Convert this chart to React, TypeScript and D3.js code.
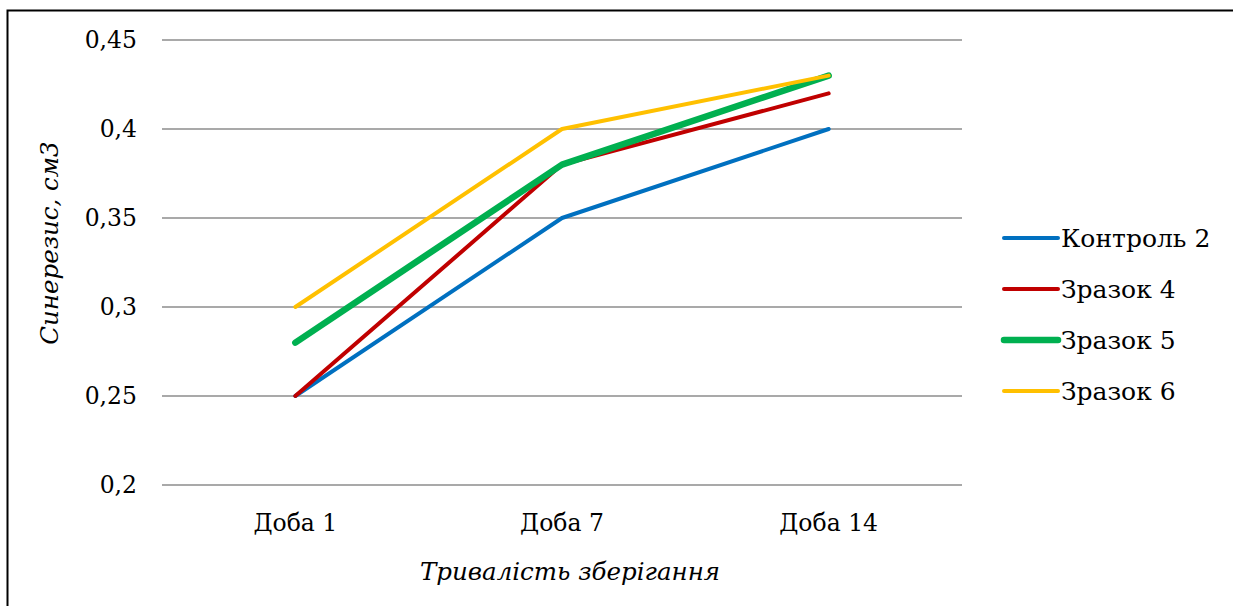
import React from "react";
import * as d3 from "d3";

const categories = ["Доба 1", "Доба 7", "Доба 14"];
const seriesNames = ["Контроль 2", "Зразок 4", "Зразок 5", "Зразок 6"];
const control2 = [0.25, 0.35, 0.4];
const sample4 = [0.25, 0.38, 0.42];
const sample5 = [0.28, 0.38, 0.43];
const sample6 = [0.3, 0.4, 0.43];
const yTicks = [0.2, 0.25, 0.3, 0.35, 0.4, 0.45];
const colors = ["#0070C0", "#C00000", "#00B050", "#FFC000"];
const widths = [4, 4, 6.5, 4];

// Liberation Serif falls back to a sans face here, DejaVu Serif renders
const font = "DejaVu Serif";

const App: React.FC = () => {
  const width = 1233;
  const height = 606;
  const plot = { left: 162, right: 962, top: 40, bottom: 485 };

  const x = d3.scalePoint<string>().domain(categories).range([plot.left, plot.right]).padding(0.5);
  const y = d3.scaleLinear().domain([0.2, 0.45]).range([plot.bottom, plot.top]);
  const line = d3.line<number>().x((_, i) => x(categories[i]) as number).y((d) => y(d));

  const series = [control2, sample4, sample5, sample6];
  const fmt = (v: number) => String(v).replace(".", ",");

  return (
    <svg width={width} height={height} style={{ position: "absolute", left: 0, top: 0, background: "#fff" }}>
      <rect x={7.5} y={10.5} width={1240} height={620} fill="none" stroke="#000" strokeWidth={2} />
      {yTicks.map((t) => (
        <g key={t}>
          <line x1={plot.left} x2={plot.right} y1={y(t)} y2={y(t)} stroke="#8c8c8c" strokeWidth={1.5} />
          <text x={137} y={y(t)} dy="0.35em" textAnchor="end" fontSize={23.5} fontFamily={font}>{fmt(t)}</text>
        </g>
      ))}
      {categories.map((c) => (
        <text key={c} x={x(c)} y={531} textAnchor="middle" fontSize={23.5} fontFamily={font}>{c}</text>
      ))}
      {series.map((s, i) => (
        <path key={i} d={line(s) ?? ""} fill="none" stroke={colors[i]} strokeWidth={widths[i]} strokeLinecap="round" strokeLinejoin="round" />
      ))}
      <text x={570} y={580} textAnchor="middle" fontSize={24.5} fontStyle="italic" fontFamily={font}>Тривалість зберігання</text>
      <text transform="translate(58,243) rotate(-90)" textAnchor="middle" fontSize={24.5} fontStyle="italic" fontFamily={font}>Синерезис, см3</text>
      {seriesNames.map((n, i) => (
        <g key={n} transform={`translate(0,${238 + i * 51})`}>
          <line x1={1004} x2={1058} y1={0} y2={0} stroke={colors[i]} strokeWidth={widths[i]} strokeLinecap="round" />
          <text x={1061} y={0} dy="0.35em" fontSize={25} fontFamily={font}>{n}</text>
        </g>
      ))}
    </svg>
  );
};

export default App;
